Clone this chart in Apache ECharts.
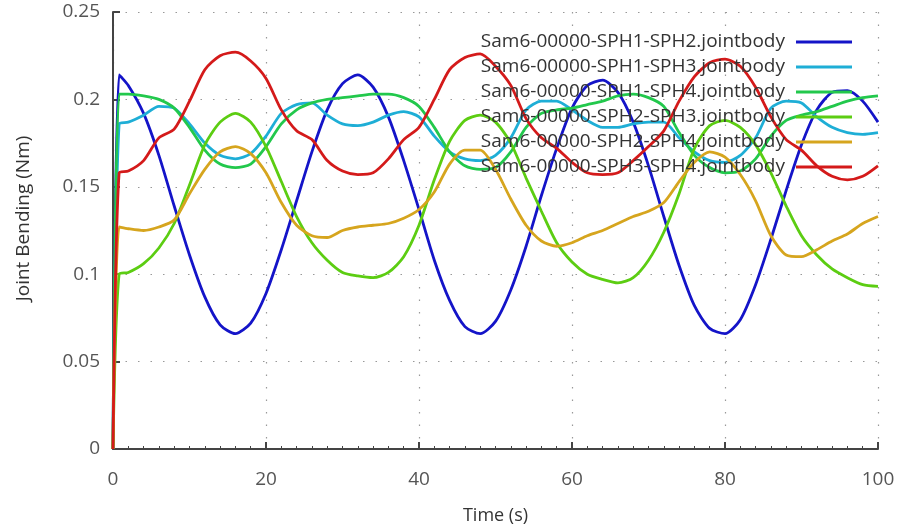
<!DOCTYPE html>
<html>
<head>
<meta charset="utf-8">
<script src="https://cdn.jsdelivr.net/npm/echarts@6/dist/echarts.min.js"></script>
<style>
  html, body { margin: 0; padding: 0; background: #fff; }
  #chart { width: 904px; height: 526px; }
</style>
</head>
<body>
<div id="chart"></div>
<script>
// time samples (s)
const times = [0, 0.8, 2, 4, 6, 8, 10, 12, 14, 16, 18, 20, 22, 24, 26, 28, 30, 32, 34, 36, 38, 40,
  42, 44, 46, 48, 50, 52, 54, 56, 58, 60, 62, 64, 66, 68, 70, 72, 74, 76, 78, 80,
  82, 84, 86, 88, 90, 92, 94, 96, 98, 100];

const seriesNames = [
  'Sam6-00000-SPH1-SPH2.jointbody',
  'Sam6-00000-SPH1-SPH3.jointbody',
  'Sam6-00000-SPH1-SPH4.jointbody',
  'Sam6-00000-SPH2-SPH3.jointbody',
  'Sam6-00000-SPH2-SPH4.jointbody',
  'Sam6-00000-SPH3-SPH4.jointbody'
];
const seriesColors = ['#1414c8', '#1eaed6', '#22c84c', '#5ccd12', '#d6a51e', '#d41a1a'];

const sph1sph2 = [0, 0.214, 0.208, 0.192, 0.168, 0.139, 0.111, 0.087, 0.071, 0.066, 0.072, 0.089,
  0.114, 0.142, 0.170, 0.194, 0.209, 0.214, 0.207, 0.190, 0.165, 0.137,
  0.108, 0.085, 0.070, 0.066, 0.073, 0.091, 0.116, 0.145, 0.172, 0.195,
  0.208, 0.211, 0.204, 0.187, 0.162, 0.133, 0.105, 0.082, 0.069, 0.066,
  0.074, 0.094, 0.120, 0.148, 0.174, 0.194, 0.204, 0.205, 0.199, 0.187];
const sph1sph3 = [0, 0.186, 0.187, 0.191, 0.196, 0.195, 0.186, 0.175, 0.168, 0.166, 0.169, 0.179,
  0.192, 0.197, 0.198, 0.191, 0.186, 0.185, 0.187, 0.191, 0.193, 0.190,
  0.179, 0.170, 0.166, 0.165, 0.168, 0.178, 0.194, 0.199, 0.199, 0.194,
  0.188, 0.184, 0.184, 0.186, 0.187, 0.187, 0.178, 0.170, 0.165, 0.164,
  0.168, 0.178, 0.195, 0.199, 0.198, 0.190, 0.184, 0.181, 0.180, 0.181];
const sph1sph4 = [0, 0.203, 0.203, 0.202, 0.200, 0.195, 0.184, 0.171, 0.163, 0.161, 0.163, 0.173,
  0.186, 0.194, 0.198, 0.200, 0.201, 0.202, 0.203, 0.203, 0.201, 0.196,
  0.184, 0.170, 0.162, 0.160, 0.161, 0.170, 0.184, 0.192, 0.194, 0.195,
  0.197, 0.199, 0.202, 0.203, 0.201, 0.196, 0.181, 0.168, 0.161, 0.158,
  0.159, 0.166, 0.179, 0.188, 0.191, 0.193, 0.196, 0.199, 0.201, 0.202];
const sph2sph3 = [0, 0.100, 0.101, 0.106, 0.115, 0.129, 0.151, 0.174, 0.187, 0.192, 0.187, 0.173,
  0.153, 0.133, 0.118, 0.108, 0.101, 0.099, 0.098, 0.101, 0.110, 0.128,
  0.154, 0.176, 0.188, 0.191, 0.187, 0.175, 0.155, 0.136, 0.118, 0.107,
  0.100, 0.097, 0.095, 0.098, 0.108, 0.124, 0.146, 0.172, 0.185, 0.188,
  0.184, 0.174, 0.158, 0.139, 0.122, 0.111, 0.103, 0.098, 0.094, 0.093];
const sph2sph4 = [0, 0.127, 0.126, 0.125, 0.127, 0.131, 0.146, 0.160, 0.170, 0.173, 0.169, 0.158,
  0.141, 0.128, 0.122, 0.121, 0.125, 0.127, 0.128, 0.129, 0.132, 0.137,
  0.147, 0.163, 0.171, 0.171, 0.160, 0.143, 0.128, 0.119, 0.116, 0.118,
  0.122, 0.125, 0.129, 0.133, 0.136, 0.141, 0.153, 0.164, 0.170, 0.167,
  0.157, 0.142, 0.122, 0.111, 0.110, 0.114, 0.119, 0.123, 0.129, 0.133];
const sph3sph4 = [0, 0.158, 0.159, 0.165, 0.178, 0.183, 0.199, 0.217, 0.225, 0.227, 0.222, 0.212,
  0.194, 0.182, 0.177, 0.165, 0.159, 0.157, 0.158, 0.166, 0.177, 0.184,
  0.200, 0.217, 0.224, 0.226, 0.219, 0.208, 0.189, 0.178, 0.172, 0.164,
  0.158, 0.157, 0.158, 0.165, 0.173, 0.182, 0.199, 0.213, 0.221, 0.223,
  0.219, 0.207, 0.190, 0.177, 0.171, 0.162, 0.156, 0.154, 0.156, 0.162];

const allValues = [sph1sph2, sph1sph3, sph1sph4, sph2sph3, sph2sph4, sph3sph4];

const chart = echarts.init(document.getElementById('chart'), null, { renderer: 'canvas' });

const axisColor = '#444';
const gridLine = { show: true, lineStyle: { color: '#999', width: 1.2, type: [1.5, 11] } };
const font = "'Open Sans', 'Noto Sans', sans-serif";

const series = allValues.map((vals, i) => ({
  name: seriesNames[i],
  type: 'line',
  data: vals.map((v, j) => [times[j], v]),
  showSymbol: false,
  smooth: 0.25,
  lineStyle: { width: 2.8, color: seriesColors[i] },
  itemStyle: { color: seriesColors[i] },
  emphasis: { disabled: true },
  animation: false
}));

chart.setOption({
  backgroundColor: '#fff',
  animation: false,
  textStyle: { fontFamily: font },
  grid: { left: 113, right: 26, top: 12, bottom: 77, outerBoundsMode: 'none', containLabel: false },
  legend: {
    orient: 'vertical',
    right: 47,
    top: 26,
    align: 'right',
    icon: 'rect',
    itemWidth: 56,
    itemHeight: 3,
    itemGap: 3,
    textStyle: { fontSize: 19, color: '#333', fontFamily: font, lineHeight: 22, padding: [0, 6, 0, 0] },
    data: seriesNames
  },
  xAxis: {
    type: 'value',
    min: 0,
    max: 100,
    interval: 20,
    name: 'Time (s)',
    nameLocation: 'middle',
    nameGap: 58,
    nameTextStyle: { fontSize: 18, color: '#333' },
    axisLine: { show: true, lineStyle: { color: axisColor, width: 2 } },
    axisTick: { show: true, inside: true, length: 7, lineStyle: { color: axisColor, width: 2 } },
    minorTick: { show: true, splitNumber: 10, length: 3, lineStyle: { color: axisColor, width: 1 } },
    axisLabel: { fontSize: 19, color: '#555', margin: 21 },
    splitLine: gridLine
  },
  yAxis: {
    type: 'value',
    min: 0,
    max: 0.25,
    interval: 0.05,
    name: 'Joint Bending (Nm)',
    nameLocation: 'middle',
    nameGap: 80,
    nameRotate: 90,
    nameTextStyle: { fontSize: 19, color: '#333', padding: [0, 0, 0, 24] },
    axisLine: { show: true, lineStyle: { color: axisColor, width: 2 } },
    axisTick: { show: true, inside: true, length: 7, lineStyle: { color: axisColor, width: 2 } },
    axisLabel: { fontSize: 19, color: '#555', margin: 13 },
    splitLine: gridLine
  },
  series: series
});
</script>
</body>
</html>
